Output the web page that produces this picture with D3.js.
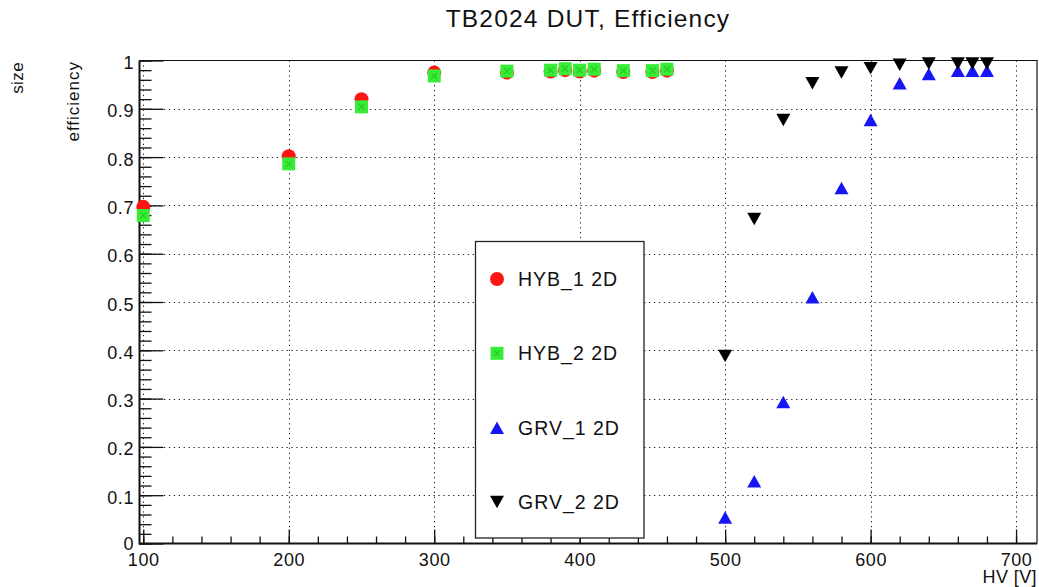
<!DOCTYPE html>
<html>
<head>
<meta charset="utf-8">
<script src="https://cdn.jsdelivr.net/npm/d3@7"></script>
<style>
  html, body { margin: 0; padding: 0; background: #fff; }
  svg { display: block; font-family: "Liberation Sans", Arial, Helvetica, sans-serif; }
</style>
</head>
<body>
<svg id="chart" width="1039" height="587"></svg>
<script>
// HV scan points and measured efficiencies per detector
const hvHyb = [100, 200, 250, 300, 350, 380, 390, 400, 410, 430, 450, 460];
const effHyb1 = [0.697, 0.802, 0.920, 0.975, 0.975, 0.977, 0.980, 0.977, 0.979, 0.976, 0.976, 0.979];
const effHyb2 = [0.679, 0.786, 0.904, 0.968, 0.978, 0.980, 0.983, 0.980, 0.982, 0.979, 0.979, 0.982];
const hvGrv = [500, 520, 540, 560, 580, 600, 620, 640, 660, 670, 680];
const effGrv1 = [0.054, 0.129, 0.293, 0.510, 0.736, 0.877, 0.953, 0.972, 0.979, 0.979, 0.979];
const effGrv2 = [0.388, 0.672, 0.877, 0.953, 0.975, 0.984, 0.991, 0.994, 0.994, 0.994, 0.994];

const seriesNames = ["HYB_1 2D", "HYB_2 2D", "GRV_1 2D", "GRV_2 2D"];
const xTickValues = [100, 200, 300, 400, 500, 600, 700];
const xTickLabels = ["100", "200", "300", "400", "500", "600", "700"];
const yTickValues = [0, 0.1, 0.2, 0.3, 0.4, 0.5, 0.6, 0.7, 0.8, 0.9, 1];
const yTickLabels = ["0", "0.1", "0.2", "0.3", "0.4", "0.5", "0.6", "0.7", "0.8", "0.9", "1"];

const titleText = "TB2024 DUT, Efficiency";
const xTitle = "HV [V]";
const yTitle = "efficiency";
const yTitle2 = "size";

const series = [
  { name: seriesNames[0], x: hvHyb, y: effHyb1, shape: "circle", color: "#ff1414" },
  { name: seriesNames[1], x: hvHyb, y: effHyb2, shape: "square", color: "#38ec38" },
  { name: seriesNames[2], x: hvGrv, y: effGrv1, shape: "up", color: "#1616f5" },
  { name: seriesNames[3], x: hvGrv, y: effGrv2, shape: "down", color: "#000000" }
];

const svg = d3.select("#chart");
const frame = { left: 139.5, right: 1037, top: 60.5, bottom: 543.5 };

const x = d3.scaleLinear().domain([97.4, 714.4]).range([frame.left, frame.right]);
const y = d3.scaleLinear().domain([0, 1]).range([frame.bottom, frame.top]);

// dotted grid at major ticks
const grid = svg.append("g").attr("stroke", "#222").attr("stroke-width", 1)
  .attr("stroke-dasharray", "1.3,3.6");
grid.selectAll("line.v").data(xTickValues).join("line")
  .attr("x1", d => Math.round(x(d)) + 0.5).attr("x2", d => Math.round(x(d)) + 0.5)
  .attr("y1", frame.top).attr("y2", frame.bottom);
grid.selectAll("line.h").data(yTickValues.filter(v => v > 0 && v < 1)).join("line")
  .attr("y1", d => Math.round(y(d)) + 0.5).attr("y2", d => Math.round(y(d)) + 0.5)
  .attr("x1", frame.left).attr("x2", frame.right);

// frame: top and right edges
svg.append("path")
  .attr("d", `M${frame.left},${frame.top}H${frame.right}V${frame.bottom}`)
  .attr("fill", "none").attr("stroke", "#111").attr("stroke-width", 1.2);

// axes with inward ticks
const xMinor = d3.range(100, 720, 20).filter(v => x(v) <= frame.right);
const yMinor = d3.range(0, 1.0001, 0.02);

function styleAxis(g) {
  g.select(".domain").remove();
  g.selectAll(".tick line").attr("stroke", "#111").attr("stroke-width", 1.3);
}

svg.append("g").attr("transform", `translate(0,${frame.bottom})`)
  .call(d3.axisBottom(x).tickValues(xMinor).tickSize(-7).tickFormat(""))
  .call(styleAxis);
svg.append("g").attr("transform", `translate(${frame.left},0)`)
  .call(d3.axisLeft(y).tickValues(yMinor).tickSize(-12).tickFormat(""))
  .call(styleAxis);

const xAxis = svg.append("g").attr("transform", `translate(0,${frame.bottom})`)
  .call(d3.axisBottom(x).tickValues(xTickValues).tickSize(-14).tickPadding(0)
    .tickFormat((d, i) => xTickLabels[i]))
  .call(styleAxis);
xAxis.selectAll(".tick text")
  .attr("y", 22.5).attr("dy", 0)
  .attr("font-size", 18).attr("fill", "#111").attr("letter-spacing", 0.6)
  .attr("font-family", "Liberation Sans, Arial, sans-serif");

const yAxis = svg.append("g").attr("transform", `translate(${frame.left},0)`)
  .call(d3.axisLeft(y).tickValues(yTickValues).tickSize(-24).tickPadding(0)
    .tickFormat((d, i) => yTickLabels[i]))
  .call(styleAxis);
yAxis.selectAll(".tick text")
  .attr("x", -5.5).attr("dy", 0).attr("y", d => (d === 0 ? 6 : 8))
  .attr("font-size", 18).attr("fill", "#111").attr("letter-spacing", 0.6)
  .attr("font-family", "Liberation Sans, Arial, sans-serif");

// axis lines drawn over ticks
svg.append("line").attr("x1", frame.left).attr("x2", frame.left)
  .attr("y1", frame.top).attr("y2", frame.bottom + 1)
  .attr("stroke", "#111").attr("stroke-width", 2);
svg.append("line").attr("x1", frame.left).attr("x2", frame.right)
  .attr("y1", frame.bottom).attr("y2", frame.bottom)
  .attr("stroke", "#111").attr("stroke-width", 2);

// marker shapes
function markerPath(shape) {
  const w = 14, h = 12.5, s = 13;
  if (shape === "square") return `M${-s / 2},${-s / 2}h${s}v${s}h${-s}Z`;
  if (shape === "up") return `M0,${-h / 2}L${w / 2},${h / 2}L${-w / 2},${h / 2}Z`;
  if (shape === "down") return `M0,${h / 2}L${w / 2},${-h / 2}L${-w / 2},${-h / 2}Z`;
  return null;
}

function drawMarker(g, shape, color) {
  if (shape === "circle") {
    g.append("circle").attr("r", 7).attr("fill", color);
  } else {
    g.append("path").attr("d", markerPath(shape)).attr("fill", color);
    if (shape === "square") {
      g.append("path").attr("d", "M-3,-3L3,3M3,-3L-3,3")
        .attr("stroke", "#1fb81f").attr("stroke-width", 1.4).attr("opacity", 0.6);
    }
  }
}

const marks = svg.append("g");
series.forEach(s => {
  const pts = s.x.map((v, i) => ({ hv: v, eff: s.y[i] }));
  marks.append("g").selectAll("g").data(pts).join("g")
    .attr("transform", d => `translate(${x(d.hv)},${y(d.eff)})`)
    .each(function () { drawMarker(d3.select(this), s.shape, s.color); });
});

// legend
const legend = svg.append("g");
legend.append("rect").attr("x", 475.5).attr("y", 241.5).attr("width", 168.5).attr("height", 296.5)
  .attr("fill", "#fff").attr("stroke", "#222").attr("stroke-width", 1.3);
const legendY = d3.scalePoint().domain(seriesNames).range([279, 502]);
series.forEach(s => {
  const row = legend.append("g").attr("transform", `translate(0,${legendY(s.name)})`);
  const m = row.append("g").attr("transform", "translate(497,0)");
  drawMarker(m, s.shape, s.color);
  row.append("text").attr("x", 518).attr("y", 7).attr("font-size", 19.5)
    .attr("letter-spacing", 1.0).attr("fill", "#111").text(s.name);
});

// titles
svg.append("text").attr("x", 588).attr("y", 27).attr("text-anchor", "middle")
  .attr("font-size", 24.5).attr("letter-spacing", 1.2).attr("fill", "#111").text(titleText);
svg.append("text").attr("x", 1037).attr("y", 583).attr("text-anchor", "end")
  .attr("font-size", 18).attr("letter-spacing", 0.4).attr("fill", "#111").text(xTitle);
svg.append("text").attr("transform", "translate(79,61) rotate(-90)").attr("text-anchor", "end")
  .attr("font-size", 17).attr("letter-spacing", 1.0).attr("fill", "#111").text(yTitle);
svg.append("text").attr("transform", "translate(23,62) rotate(-90)").attr("text-anchor", "end")
  .attr("font-size", 17).attr("letter-spacing", 0.4).attr("fill", "#111").text(yTitle2);
</script>
</body>
</html>
